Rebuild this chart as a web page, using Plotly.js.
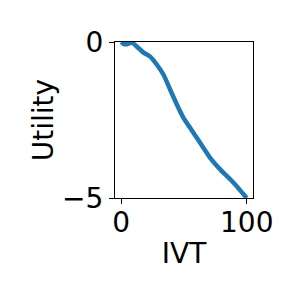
<!DOCTYPE html>
<html>
<head>
<meta charset="utf-8">
<script src="https://cdn.plot.ly/plotly-3.0.1.min.js"></script>
<style>html,body{margin:0;padding:0;background:#fff;}#chart{width:300px;height:300px;}</style>
</head>
<body>
<div id="chart"></div>
<script>
var ivt = [0, 2, 4.5, 8.5, 12.5, 17.8, 23, 28.4, 33.7, 39, 44.4, 49.7, 55, 63, 71, 79, 89.5, 100];
var utility = [0, -0.07, -0.07, -0.02, -0.15, -0.34, -0.47, -0.73, -1.05, -1.53, -2.01, -2.44, -2.76, -3.24, -3.72, -4.09, -4.51, -5.0];
var xTicks = [0, 100];
var yTicks = [-5, 0];

var font = {family: "DejaVu Sans", size: 28, color: "#000"};
Plotly.newPlot("chart", [{
  x: ivt, y: utility, type: "scatter", mode: "lines",
  line: {color: "#1f77b4", width: 4.5, shape: "spline", smoothing: 0.6}
}], {
  width: 300, height: 300,
  margin: {l: 115, r: 47, t: 42, b: 101.5},
  paper_bgcolor: "#fff", plot_bgcolor: "#fff",
  showlegend: false,
  font: font,
  xaxis: {
    range: [-5, 105], tickvals: xTicks, ticktext: xTicks.map(String),
    showgrid: false, zeroline: false, showline: true, mirror: true,
    linecolor: "#000", linewidth: 1, ticks: "outside", ticklen: 5, tickcolor: "#000",
    ticklabelstandoff: -6,
    tickfont: font, title: {text: "IVT", font: font, standoff: 5}
  },
  yaxis: {
    range: [-5, 0], tickvals: yTicks, ticktext: ["\u22125", "0"],
    showgrid: false, zeroline: false, showline: true, mirror: true,
    linecolor: "#000", linewidth: 1, ticks: "outside", ticklen: 5, tickcolor: "#000",
    tickfont: font, title: {text: "Utility", font: font, standoff: 0}
  }
}, {staticPlot: true});
</script>
</body>
</html>
